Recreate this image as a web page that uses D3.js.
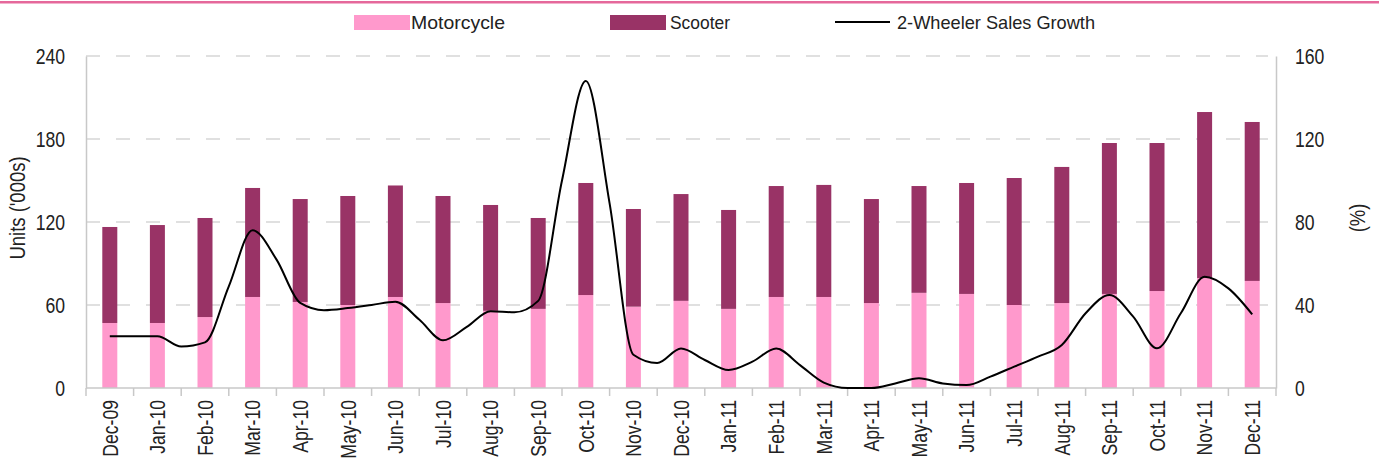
<!DOCTYPE html>
<html>
<head>
<meta charset="utf-8">
<script src="https://cdn.jsdelivr.net/npm/d3@7"></script>
<style>
  body { margin: 0; background: #fff; }
  text { font-family: "Liberation Sans", Arial, sans-serif; fill: #222; }
</style>
</head>
<body>
<svg width="1379" height="464"></svg>
<script>
const months = ["Dec-09","Jan-10","Feb-10","Mar-10","Apr-10","May-10","Jun-10","Jul-10","Aug-10","Sep-10","Oct-10","Nov-10","Dec-10",
  "Jan-11","Feb-11","Mar-11","Apr-11","May-11","Jun-11","Jul-11","Aug-11","Sep-11","Oct-11","Nov-11","Dec-11"]
// units '000s
const motorcycle = [47,47,51.3,65.8,62.2,60,65.8,61.4,55.8,57.2,67.2,58.8,63,57.2,65.8,65.8,61.4,68.8,68,60,61.4,68,70.1,79.5,77.4]
const total      = [116.4,117.8,122.9,144.6,136.6,138.8,146.4,138.8,132.3,122.9,148.2,129.4,140.2,128.7,146,146.8,136.6,146,148.2,151.8,159.8,177.1,177.1,199.5,192.3]
const scooter = total.map((t,i) => +(t - motorcycle[i]).toFixed(1))
const growth = [25,25,25,20,22,49,76,62,41,37.5,38.5,40,41.6,33,23,29.5,37,36.5,42,100,148,89,16,12,19,13.5,8.7,12.7,19,11,2.6,0,0,2.2,4.7,2.2,1.4,5.5,10.3,15.1,20.7,36,44.8,34.4,19.1,36,53.6,48,35.5]
const growthIdx = d3.range(0, 24.5, 0.5)
const leftTicks = [0,60,120,180,240]
const rightTicks = [0,40,80,120,160]

const colMoto = "#FF99CC", colScoot = "#993366"
const svg = d3.select("svg")
const mLeft = 86, mRight = 1276, mTop = 56, mBottom = 388

// squeeze text to look like a narrow face
function narrow(sel, k){
  sel.each(function(){
    const w = this.getComputedTextLength()
    d3.select(this).attr("textLength", w*k).attr("lengthAdjust","spacingAndGlyphs")
  })
}

svg.append("rect").attr("x",0).attr("y",1).attr("width",1379).attr("height",2.5).attr("fill","#E5689B")

const x = d3.scaleBand().domain(months).range([mLeft,mRight])
const bw = x.bandwidth()
const yL = d3.scaleLinear().domain([0,240]).range([mBottom,mTop])
const yR = d3.scaleLinear().domain([0,160]).range([mBottom,mTop])
const xi = d3.scaleLinear().domain([0,24]).range([x(months[0])+bw/2, x(months[24])+bw/2])

// grid
svg.append("g").selectAll("line").data(leftTicks.slice(1)).enter().append("line")
  .attr("x1",mLeft).attr("x2",mRight-8).attr("y1",d=>yL(d)).attr("y2",d=>yL(d))
  .attr("stroke","#D6D6D6").attr("stroke-width",1.5).attr("stroke-dasharray","14,16")

// bars
const rows = months.map((m,i) => ({m, motorcycle: motorcycle[i], scooter: scooter[i]}))
const stack = d3.stack().keys(["motorcycle","scooter"])(rows)
const barW = 15
svg.append("g").selectAll("g").data(stack).enter().append("g")
  .attr("fill", d => d.key == "motorcycle" ? colMoto : colScoot)
  .selectAll("rect").data(d => d).enter().append("rect")
  .attr("x", d => x(d.data.m) + bw/2 - barW/2)
  .attr("width", barW)
  .attr("y", d => yL(d[1]))
  .attr("height", d => yL(d[0]) - yL(d[1]))

// axes
const axisCol = "#C8C8C8"
const gL = svg.append("g").attr("transform",`translate(${mLeft},0)`)
  .call(d3.axisLeft(yL).tickValues(leftTicks).tickSize(0).tickPadding(21))
gL.attr("font-family",null).attr("font-size",22)
gL.select(".domain").attr("stroke",axisCol).attr("stroke-width",1.5)
narrow(gL.selectAll("text"), 0.8)

const gR = svg.append("g").attr("transform",`translate(${mRight},0)`)
  .call(d3.axisRight(yR).tickValues(rightTicks).tickSize(0).tickPadding(19))
gR.attr("font-family",null).attr("font-size",22)
gR.select(".domain").attr("stroke",axisCol).attr("stroke-width",1.5)
narrow(gR.selectAll("text"), 0.8)

const gB = svg.append("g").attr("transform",`translate(0,${mBottom})`)
gB.append("line").attr("x1",mLeft).attr("x2",mRight).attr("stroke",axisCol).attr("stroke-width",1.5)
gB.selectAll("line.tk").data(d3.range(months.length+1)).enter().append("line").attr("class","tk")
  .attr("x1", i => mLeft + i*bw).attr("x2", i => mLeft + i*bw).attr("y1",0).attr("y2",8)
  .attr("stroke",axisCol).attr("stroke-width",1.5)
gB.selectAll("text").data(months).enter().append("text")
  .attr("transform", d => `translate(${x(d)+bw/2},12) rotate(-90)`)
  .attr("text-anchor","end").attr("dy","0.35em").attr("font-size",22).text(d => d)
  .call(narrow, 0.8)

// growth line
const line = d3.line().x((d,i) => xi(growthIdx[i])).y(d => yR(d)).curve(d3.curveMonotoneX)
svg.append("path").datum(growth).attr("d",line).attr("fill","none").attr("stroke","#000").attr("stroke-width",2)

// axis titles
svg.append("text").attr("transform","translate(17,208) rotate(-90)").attr("text-anchor","middle")
  .attr("dy","0.35em").attr("font-size",22).text("Units ('000s)").call(narrow, 0.84)
svg.append("text").attr("transform","translate(1357,218) rotate(-90)").attr("text-anchor","middle")
  .attr("dy","0.35em").attr("font-size",22).text("(%)").call(narrow, 0.84)

// legend
const leg = svg.append("g").attr("transform","translate(0,22)")
leg.append("rect").attr("x",354).attr("y",-7).attr("width",56).attr("height",15).attr("fill",colMoto)
leg.append("text").attr("x",411).attr("dy","0.35em").attr("font-size",19).text("Motorcycle")
  .attr("textLength",94).attr("lengthAdjust","spacingAndGlyphs")
leg.append("rect").attr("x",610).attr("y",-7).attr("width",56).attr("height",15).attr("fill",colScoot)
leg.append("text").attr("x",670).attr("dy","0.35em").attr("font-size",19).text("Scooter")
  .attr("textLength",60).attr("lengthAdjust","spacingAndGlyphs")
leg.append("line").attr("x1",835).attr("x2",890).attr("stroke","#000").attr("stroke-width",2)
leg.append("text").attr("x",897).attr("dy","0.35em").attr("font-size",19).text("2-Wheeler Sales Growth")
  .attr("textLength",198).attr("lengthAdjust","spacingAndGlyphs")
</script>
</body>
</html>
